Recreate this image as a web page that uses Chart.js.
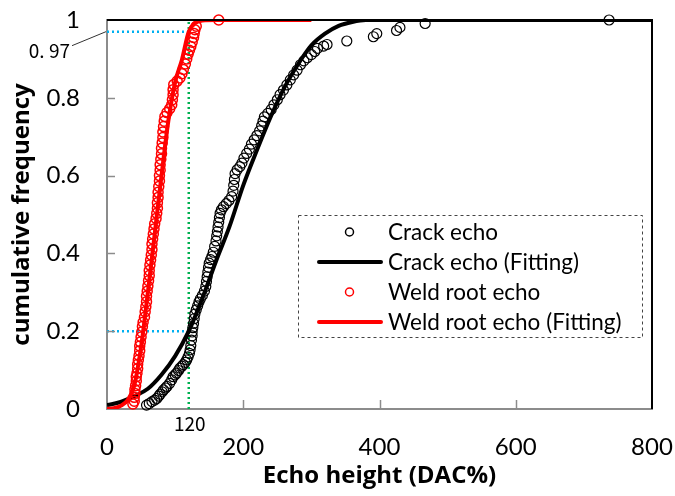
<!DOCTYPE html>
<html>
<head>
<meta charset="utf-8">
<script src="https://cdn.jsdelivr.net/npm/chart.js@4.4.1/dist/chart.umd.min.js"></script>
<style>
  html, body { margin: 0; padding: 0; background: #fff; }
</style>
</head>
<body>
<canvas id="myChart" width="675" height="496"></canvas>
<script>
// Axis ticks
const xTicks = [0, 200, 400, 600, 800]
const yTicks = [0, 0.2, 0.4, 0.6, 0.8, 1]

// Crack echo: measured cumulative frequency
const crackEchoX = [58, 62, 66, 70, 73, 76, 78, 81, 83, 86, 88, 92, 95, 97, 100, 102, 105, 107, 110, 112,
  115, 117, 119, 121, 122, 123, 124, 125, 125, 126, 127, 128, 129, 131, 133, 135, 137, 140, 143, 145,
  146, 147, 148, 149, 150, 152, 154, 156, 158, 160, 161, 162, 163, 164, 165, 166, 168, 171, 175, 179,
  183, 185, 186, 187, 188, 191, 195, 198, 201, 205, 209, 212, 216, 220, 224, 227, 229, 231, 236, 241,
  245, 250, 254, 259, 264, 269, 274, 279, 284, 289, 294, 300, 305, 309, 318, 323, 352, 391, 396, 425,
  430, 467, 737]
const crackEchoY = [0.010, 0.014, 0.019, 0.023, 0.027, 0.033, 0.038, 0.044, 0.049, 0.054, 0.058, 0.066, 0.075, 0.083, 0.088, 0.092, 0.099, 0.105, 0.110, 0.114,
  0.120, 0.126, 0.134, 0.143, 0.152, 0.163, 0.177, 0.188, 0.198, 0.209, 0.220, 0.232, 0.244, 0.255, 0.265, 0.275, 0.283, 0.292, 0.303, 0.315,
  0.328, 0.340, 0.352, 0.364, 0.375, 0.384, 0.392, 0.403, 0.418, 0.432, 0.445, 0.456, 0.468, 0.480, 0.492, 0.503, 0.512, 0.520, 0.528, 0.536,
  0.546, 0.560, 0.575, 0.590, 0.605, 0.615, 0.623, 0.632, 0.645, 0.657, 0.668, 0.681, 0.692, 0.703, 0.715, 0.728, 0.740, 0.751, 0.760, 0.770,
  0.782, 0.795, 0.808, 0.820, 0.833, 0.846, 0.859, 0.871, 0.885, 0.895, 0.903, 0.911, 0.919, 0.927, 0.933, 0.937, 0.946, 0.957, 0.965, 0.973,
  0.981, 0.991, 1.000]

// Crack echo: fitted curve
const crackFitX = [0, 20, 40, 60, 80, 100, 120, 140, 160, 180, 200, 220, 240, 260, 280, 300, 320, 340, 360, 380, 800]
const crackFitY = [0.01, 0.018, 0.033, 0.052, 0.088, 0.136, 0.2, 0.285, 0.38, 0.47, 0.575, 0.665, 0.75, 0.825, 0.885, 0.935, 0.965, 0.985, 0.995, 1, 1]

// Weld root echo: measured cumulative frequency
const weldRootX = [38, 40, 40, 41, 41, 42, 43, 43, 44, 45, 45, 46, 47, 48, 48, 49, 50, 51, 52, 53,
  55, 56, 57, 58, 58, 59, 60, 61, 62, 62, 63, 64, 65, 66, 66, 67, 68, 69, 70, 72,
  73, 74, 74, 75, 75, 76, 77, 77, 78, 78, 79, 80, 80, 81, 82, 82, 83, 84, 85, 88,
  92, 95, 96, 97, 97, 98, 103, 107, 110, 112, 115, 117, 119, 121, 123, 125, 127, 128, 129, 131, 164]
const weldRootY = [0.013, 0.020, 0.030, 0.040, 0.050, 0.060, 0.072, 0.083, 0.092, 0.104, 0.115, 0.126, 0.137, 0.150, 0.162, 0.172, 0.185, 0.198, 0.212, 0.223,
  0.236, 0.250, 0.263, 0.276, 0.290, 0.303, 0.316, 0.330, 0.343, 0.356, 0.370, 0.383, 0.396, 0.410, 0.424, 0.437, 0.450, 0.463, 0.476, 0.490,
  0.503, 0.516, 0.530, 0.544, 0.557, 0.572, 0.586, 0.600, 0.614, 0.628, 0.642, 0.656, 0.670, 0.684, 0.698, 0.712, 0.726, 0.740, 0.752, 0.762,
  0.772, 0.782, 0.795, 0.808, 0.821, 0.834, 0.843, 0.851, 0.862, 0.873, 0.887, 0.900, 0.912, 0.922, 0.932, 0.943, 0.955, 0.965, 0.975, 0.984, 1.000]

// Weld root echo: fitted curve
const weldFitX = [0, 10, 20, 30, 40, 50, 60, 70, 80, 90, 100, 110, 120, 130, 140, 160, 300]
const weldFitY = [0, 0.002, 0.008, 0.022, 0.06, 0.16, 0.3, 0.45, 0.6, 0.74, 0.84, 0.898, 0.97, 0.993, 0.999, 1, 1]

// Reference lines (DAC 120%, 0.2 and 0.97)
const refX = 120
const refLow = 0.2
const refHigh = 0.97

const toPoints = (xs, ys) => xs.map((x, i) => ({ x, y: ys[i] }))

const legendPlugin = {
  id: 'boxLegend',
  afterDraw(chart) {
    const ctx = chart.ctx
    const items = chart.data.datasets.filter((d) => d.inLegend)
    ctx.save()
    // dashed frame
    ctx.setLineDash([3, 3])
    ctx.strokeStyle = '#444'
    ctx.lineWidth = 1
    ctx.strokeRect(298.5, 215.5, 344, 122)
    ctx.setLineDash([])
    ctx.font = '22.5px Lato'
    ctx.fillStyle = '#000'
    ctx.textBaseline = 'middle'
    items.forEach((d, i) => {
      const y = 232 + i * 30
      if (d.showLine) {
        ctx.strokeStyle = d.borderColor
        ctx.lineWidth = 4
        ctx.lineCap = 'round'
        ctx.beginPath()
        ctx.moveTo(319, y)
        ctx.lineTo(381, y)
        ctx.stroke()
      } else {
        ctx.strokeStyle = d.borderColor
        ctx.lineWidth = 1.5
        ctx.beginPath()
        ctx.arc(349.5, y, 4, 0, Math.PI * 2)
        ctx.stroke()
      }
      ctx.fillText(d.label, 388, y + 1)
    })
    ctx.restore()
  },
}

const frameAndNotes = {
  id: 'frameAndNotes',
  afterDraw(chart) {
    const { ctx, chartArea: a, scales } = chart
    ctx.save()
    // top and right frame
    ctx.strokeStyle = '#000'
    ctx.lineWidth = 2
    ctx.beginPath()
    ctx.moveTo(a.left, a.top)
    ctx.lineTo(a.right, a.top)
    ctx.lineTo(a.right, a.bottom)
    ctx.stroke()
    // inward tick marks
    ctx.strokeStyle = '#8c8c8c'
    ctx.lineWidth = 1.5
    yTicks.slice(1, -1).forEach((v) => {
      const py = Math.round(scales.y.getPixelForValue(v)) + 0.5
      ctx.beginPath()
      ctx.moveTo(a.left, py)
      ctx.lineTo(a.left + 8, py)
      ctx.stroke()
    })
    xTicks.slice(1, -1).forEach((v) => {
      const px = Math.round(scales.x.getPixelForValue(v)) + 0.5
      ctx.beginPath()
      ctx.moveTo(px, a.bottom)
      ctx.lineTo(px, a.bottom - 9)
      ctx.stroke()
    })
    // 0.97 note with leader line
    const yHigh = scales.y.getPixelForValue(refHigh)
    ctx.strokeStyle = '#333'
    ctx.lineWidth = 1
    ctx.beginPath()
    ctx.moveTo(a.left - 1, yHigh)
    ctx.lineTo(a.left - 35, yHigh + 14)
    ctx.stroke()
    ctx.fillStyle = '#000'
    ctx.font = '19px "Noto Sans CJK JP"'
    ctx.textAlign = 'right'
    ctx.textBaseline = 'middle'
    ctx.fillText('0. 97', a.left - 37, yHigh + 19)
    ctx.textAlign = 'center'
    ctx.fillText('120', scales.x.getPixelForValue(refX) + 1, a.bottom + 15)
    ctx.restore()
  },
}

const ctx = document.getElementById('myChart')

new Chart(ctx, {
  type: 'scatter',
  data: {
    datasets: [
      {
        label: 'Crack echo',
        inLegend: true,
        data: toPoints(crackEchoX, crackEchoY),
        showLine: false,
        borderColor: '#000',
        backgroundColor: 'rgba(0,0,0,0)',
        pointRadius: 5,
        pointBorderWidth: 1.2,
        clip: false,
        order: 5,
      },
      {
        label: 'Crack echo (Fitting)',
        inLegend: true,
        data: toPoints(crackFitX, crackFitY),
        showLine: true,
        borderColor: '#000',
        borderWidth: 4,
        pointRadius: 0,
        cubicInterpolationMode: 'monotone',
        order: 4,
      },
      {
        label: 'Weld root echo',
        inLegend: true,
        data: toPoints(weldRootX, weldRootY),
        showLine: false,
        borderColor: '#ff0000',
        backgroundColor: 'rgba(0,0,0,0)',
        pointRadius: 5,
        pointBorderWidth: 1.5,
        clip: false,
        order: 3,
      },
      {
        label: 'Weld root echo (Fitting)',
        inLegend: true,
        data: toPoints(weldFitX, weldFitY),
        showLine: true,
        borderColor: '#ff0000',
        borderWidth: 4,
        pointRadius: 0,
        cubicInterpolationMode: 'monotone',
        order: 2,
      },
      {
        label: 'ref high',
        data: [{ x: 0, y: refHigh }, { x: refX, y: refHigh }],
        showLine: true,
        borderColor: '#00b0f0',
        borderWidth: 2.5,
        borderDash: [2, 3],
        pointRadius: 0,
        order: 6,
      },
      {
        label: 'ref low',
        data: [{ x: 0, y: refLow }, { x: refX, y: refLow }],
        showLine: true,
        borderColor: '#00b0f0',
        borderWidth: 2.5,
        borderDash: [2, 3],
        pointRadius: 0,
        order: 6,
      },
      {
        label: 'ref x',
        data: [{ x: refX, y: 0 }, { x: refX, y: 1 }],
        showLine: true,
        borderColor: '#00b050',
        borderWidth: 2.5,
        borderDash: [2, 3],
        pointRadius: 0,
        order: 6,
      },
    ],
  },
  options: {
    responsive: false,
    animation: false,
    events: [],
    layout: { padding: { top: 20, right: 23, left: 0, bottom: 0 } },
    plugins: {
      legend: { display: false },
      tooltip: { enabled: false },
    },
    scales: {
      x: {
        type: 'linear',
        min: xTicks[0],
        max: xTicks[xTicks.length - 1],
        afterBuildTicks: (scale) => {
          scale.ticks = xTicks.map((value) => ({ value }))
        },
        afterFit: (scale) => {
          scale.height = 87
          scale.paddingLeft = 0
          scale.paddingRight = 0
        },
        grid: { display: false, drawTicks: false },
        border: { display: true, color: '#8c8c8c', width: 2 },
        ticks: {
          color: '#000',
          font: { family: 'Lato', size: 24 },
          padding: 24,
          maxRotation: 0,
        },
        title: {
          display: true,
          text: 'Echo height (DAC%)',
          color: '#000',
          font: { family: 'Open Sans', size: 24, weight: 'bold' },
          padding: { top: 0, bottom: 5 },
        },
      },
      y: {
        type: 'linear',
        min: yTicks[0],
        max: yTicks[yTicks.length - 1],
        afterBuildTicks: (scale) => {
          scale.ticks = yTicks.map((value) => ({ value }))
        },
        afterFit: (scale) => {
          scale.width = 107
          scale.paddingTop = 0
          scale.paddingBottom = 0
        },
        grid: { display: false, drawTicks: false },
        border: { display: true, color: '#8c8c8c', width: 2 },
        ticks: {
          color: '#000',
          font: { family: 'Lato', size: 24 },
          padding: 27,
          callback: (v) => String(Math.round(v * 10) / 10),
        },
        title: {
          display: true,
          text: 'cumulative frequency',
          color: '#000',
          font: { family: 'Open Sans', size: 24, weight: 'bold' },
          padding: { top: 8, bottom: 0 },
        },
      },
    },
  },
  plugins: [frameAndNotes, legendPlugin],
})
</script>
</body>
</html>
